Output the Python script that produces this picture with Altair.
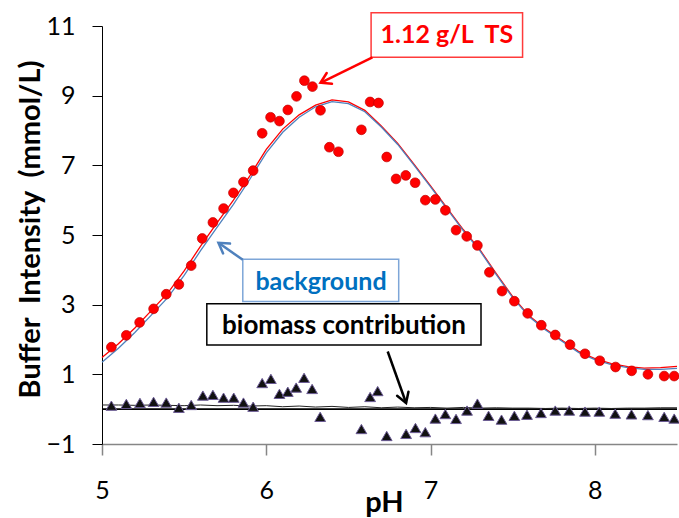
import math
import altair as alt
import pandas as pd

# ---------------- data ----------------
ph_ts = [5.057, 5.148, 5.229, 5.314, 5.391, 5.468, 5.543, 5.610, 5.675, 5.740,
         5.800, 5.861, 5.920, 5.975, 6.026, 6.080, 6.131, 6.184, 6.232, 6.281,
         6.330, 6.384, 6.439, 6.579, 6.632, 6.683, 6.733, 6.790, 6.849, 6.906,
         6.968, 7.029, 7.090, 7.155, 7.220, 7.285, 7.358, 7.435, 7.510, 7.591,
         7.674, 7.759, 7.849, 7.940, 8.030, 8.126, 8.224, 8.323, 8.422, 8.483]
buffer_ts = [1.78, 2.12, 2.49, 2.88, 3.30, 3.58, 4.12, 4.90, 5.36, 5.76,
             6.21, 6.52, 6.85, 7.92, 8.38, 8.27, 8.59, 8.98, 9.43, 9.26,
             8.58, 7.52, 7.39, 8.02, 8.82, 8.79, 7.24, 6.61, 6.71, 6.50,
             6.00, 6.02, 5.71, 5.14, 4.96, 4.70, 3.93, 3.39, 3.10, 2.75,
             2.41, 2.13, 1.85, 1.59, 1.39, 1.21, 1.10, 1.00, 0.95, 0.95]

ph_bio = [5.057, 5.148, 5.231, 5.314, 5.391, 5.468, 5.543, 5.614, 5.675, 5.740,
          5.802, 5.861, 5.920, 5.975, 6.028, 6.080, 6.131, 6.182, 6.230, 6.279,
          6.328, 6.579, 6.632, 6.678, 6.733, 6.851, 6.908, 6.968, 7.029, 7.090,
          7.155, 7.222, 7.285, 7.353, 7.432, 7.510, 7.587, 7.672, 7.759, 7.844,
          7.940, 8.027, 8.124, 8.223, 8.323, 8.422, 8.483]
bio = [0.10, 0.15, 0.18, 0.21, 0.19, 0.04, 0.12, 0.39, 0.41, 0.33,
       0.33, 0.19, 0.07, 0.75, 0.87, 0.44, 0.50, 0.62, 0.90, 0.58,
       -0.22, -0.57, 0.35, 0.52, -0.77, -0.71, -0.54, -0.66, -0.27, -0.14,
       -0.28, -0.04, 0.16, -0.19, -0.30, -0.19, -0.16, -0.11, -0.04, -0.04,
       -0.07, -0.07, -0.13, -0.15, -0.17, -0.22, -0.27]

ph_curve = [5.0, 5.1, 5.2, 5.3, 5.4, 5.5, 5.6, 5.7, 5.8, 5.9,
            6.0, 6.1, 6.2, 6.3, 6.4, 6.5, 6.6, 6.7, 6.8, 6.9,
            7.0, 7.1, 7.2, 7.3, 7.4, 7.5, 7.6, 7.7, 7.8, 7.9,
            8.0, 8.1, 8.2, 8.3, 8.4, 8.5]
fit_total = [1.48, 1.88, 2.33, 2.83, 3.33, 3.97, 4.68, 5.35, 6.00, 6.70,
             7.46, 8.04, 8.45, 8.73, 8.88, 8.82, 8.58, 8.13, 7.63, 7.03,
             6.41, 5.78, 5.15, 4.58, 3.89, 3.23, 2.68, 2.30, 1.98, 1.66,
             1.45, 1.31, 1.22, 1.18, 1.19, 1.23]
fit_background = [1.35, 1.75, 2.20, 2.70, 3.20, 3.84, 4.55, 5.22, 5.88, 6.60,
                  7.36, 7.95, 8.38, 8.68, 8.83, 8.77, 8.54, 8.10, 7.60, 7.00,
                  6.38, 5.75, 5.12, 4.55, 3.86, 3.20, 2.65, 2.27, 1.95, 1.63,
                  1.42, 1.28, 1.19, 1.14, 1.14, 1.17]
fit_biomass = [0.12, 0.12, 0.11, 0.12, 0.11, 0.10, 0.12, 0.10, 0.11, 0.09,
               0.10, 0.07, 0.09, 0.06, 0.08, 0.05, 0.07, 0.04, 0.06, 0.04,
               0.05, 0.03, 0.05, 0.03, 0.04, 0.03, 0.03, 0.02, 0.03, 0.02,
               0.03, 0.02, 0.03, 0.03, 0.04, 0.04]

x_ticks = [5, 6, 7, 8]
y_ticks = [-1, 1, 3, 5, 7, 9, 11]

# annotations (data coordinates)
ann_ts = {"text": "1.12 g/L\u00a0 TS", "box": (6.638, 7.560, 10.10, 11.38), "at": (7.099, 10.74),
          "tail": (6.646, 10.10), "head": (6.330, 9.37)}
ann_bg = {"text": "background", "box": (5.857, 6.806, 3.091, 4.307), "at": (6.333, 3.656),
          "tail": (5.857, 4.287), "head": (5.709, 4.775)}
ann_bio = {"text": "biomass contribution", "box": (5.638, 7.307, 1.840, 3.025), "at": (6.473, 2.394),
           "tail": (6.739, 1.656), "head": (6.851, 0.176)}

# ---------------- chart ----------------
X_DOM = [5, 8.5]
Y_DOM = [-1, 11]
W, H = 575, 418
FONT = "Lato"

xs = alt.Scale(domain=X_DOM, nice=False, zero=False)
ys = alt.Scale(domain=Y_DOM, nice=False, zero=False)

x_axis = alt.Axis(values=x_ticks, title="pH", grid=False, domainColor="#868686",
                  domainWidth=1.5, tickColor="#868686", tickWidth=1.5, tickSize=11,
                  labelFont=FONT, labelFontSize=25, labelColor="black", labelPadding=23,
                  labelFlush=False, labelOverlap=False,
                  titleFont=FONT, titleFontSize=29, titleFontWeight="bold", titleColor="black",
                  titleX=282, titleY=58, titleAlign="center", titleBaseline="middle")
y_axis = alt.Axis(values=y_ticks, title="Buffer\u00a0 Intensity\u00a0 (mmol/L)", grid=False,
                  domainColor="black", tickColor="black", tickSize=10,
                  labelFont=FONT, labelFontSize=25, labelColor="black", labelPadding=17,
                  labelFlush=False, labelOverlap=False,
                  titleFont=FONT, titleFontSize=29, titleFontWeight="bold", titleColor="black",
                  titleX=-72, titleY=203, titleAngle=270, titleAlign="center",
                  titleBaseline="middle")


def X(f):
    return alt.X(f, type="quantitative", scale=xs, axis=x_axis)


def Y(f):
    return alt.Y(f, type="quantitative", scale=ys, axis=y_axis)


curves = pd.DataFrame({"ph": ph_curve, "total": fit_total,
                       "background": fit_background, "biomass": fit_biomass})
ts_df = pd.DataFrame({"ph": ph_ts, "value": buffer_ts})
bio_df = pd.DataFrame({"ph": ph_bio, "value": bio})

zero = alt.Chart(pd.DataFrame({"value": [0]})).mark_rule(
    color="black", strokeWidth=1.6).encode(y=Y("value"))
red_line = alt.Chart(curves).mark_line(color="#FF0000", strokeWidth=1.3).encode(
    x=X("ph"), y=Y("total"))
blue_line = alt.Chart(curves).mark_line(color="#4F81BD", strokeWidth=1.3).encode(
    x=X("ph"), y=Y("background"))
black_line = alt.Chart(curves).mark_line(color="#222222", strokeWidth=1).encode(
    x=X("ph"), y=Y("biomass"))
circles = alt.Chart(ts_df).mark_point(shape="circle", filled=True, size=95, opacity=1,
                                      fill="#FF0000", stroke="#C00000", strokeWidth=0.7).encode(
    x=X("ph"), y=Y("value"))
triangles = alt.Chart(bio_df).mark_point(shape="triangle-up", filled=True, size=115, opacity=1,
                                         fill="#111111", stroke="#6B5B95", strokeWidth=1).encode(
    x=X("ph"), y=Y("value"))

kx = W / (X_DOM[1] - X_DOM[0])
ky = H / (Y_DOM[1] - Y_DOM[0])


def annotation(a, text_color, border_color, arrow_color, font_size):
    x1, x2, y1, y2 = a["box"]
    box = alt.Chart(pd.DataFrame({"x": [x1], "x2": [x2], "y": [y1], "y2": [y2]})).mark_rect(
        fill="white", stroke=border_color, strokeWidth=1.5).encode(
        x=X("x"), x2="x2", y=Y("y"), y2="y2")
    txt = alt.Chart(pd.DataFrame({"x": [a["at"][0]], "y": [a["at"][1]], "t": [a["text"]]})).mark_text(
        font=FONT, fontWeight="bold", fontSize=font_size, color=text_color,
        align="center", baseline="middle").encode(x=X("x"), y=Y("y"), text="t:N")
    (tx, ty), (hx, hy) = a["tail"], a["head"]
    shaft = alt.Chart(pd.DataFrame({"x": [tx], "y": [ty], "x2": [hx], "y2": [hy]})).mark_rule(
        color=arrow_color, strokeWidth=2.5).encode(x=X("x"), y=Y("y"), x2="x2", y2="y2")
    dx = (hx - tx) * kx
    dy = -(hy - ty) * ky
    ang = math.degrees(math.atan2(dx, -dy)) % 360
    head = alt.Chart(pd.DataFrame({"x": [hx], "y": [hy]})).mark_point(
        shape="M-0.55,0.9L0,0L0.55,0.9", filled=False, size=480, angle=ang, opacity=1,
        color=arrow_color, strokeWidth=2.5, strokeCap="round", strokeJoin="miter").encode(
        x=X("x"), y=Y("y"))
    return [box, txt, shaft, head]


layers = [zero, red_line, blue_line, black_line, circles, triangles]
layers += annotation(ann_ts, "#FF0000", "#FF3B3B", "#FF0000", 25)
layers += annotation(ann_bg, "#0070C0", "#7EA6D8", "#4F81BD", 25)
layers += annotation(ann_bio, "black", "black", "black", 26)

chart = alt.layer(*layers).properties(
    width=W, height=H,
    padding={"left": 102, "top": 26, "right": 2, "bottom": 74},
    autosize=alt.AutoSizeParams(type="none"),
    background="white",
).configure_view(strokeWidth=0)

chart.save("out.html", embed_options={"renderer": "svg", "actions": False})
